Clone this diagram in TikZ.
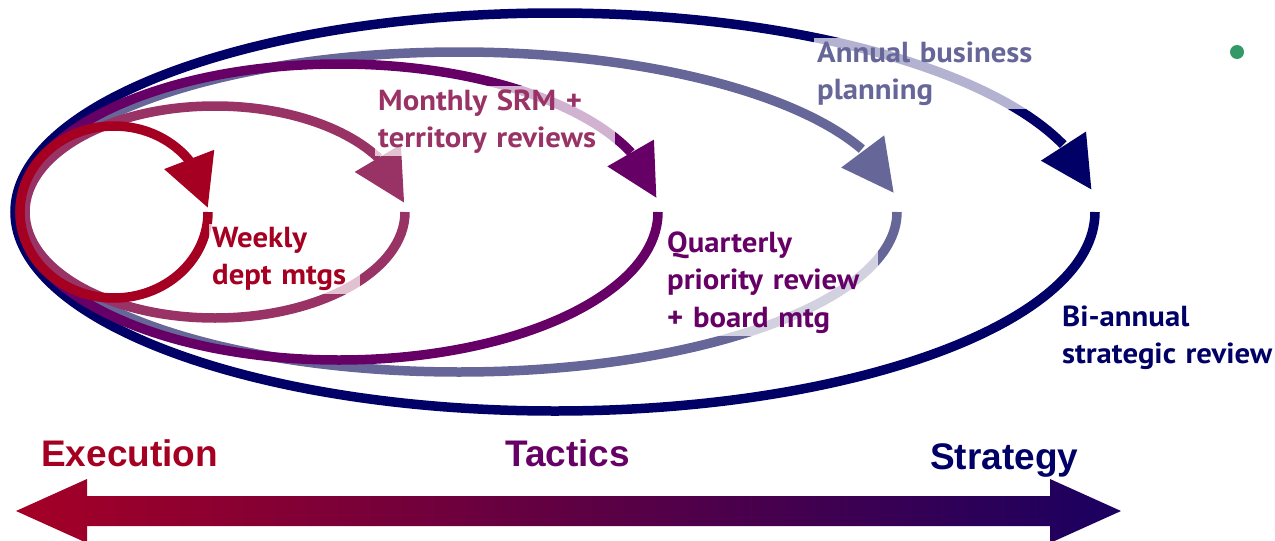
\documentclass[tikz,border=0pt]{standalone}
\usepackage{fontspec}
\setmainfont{PT Sans}[FakeStretch=1.06]
\newfontfamily\axisfont{Liberation Sans}
\usetikzlibrary{arrows.meta,bending}

% cycle colours
\definecolor{cWeek}{HTML}{A50021}
\definecolor{cMonth}{HTML}{993366}
\definecolor{cQuarter}{HTML}{660066}
\definecolor{cAnnual}{HTML}{666699}
\definecolor{cBiannual}{HTML}{000066}
\definecolor{cDot}{HTML}{339966}
\definecolor{cLeft}{RGB}{165,0,38}
\definecolor{cRight}{RGB}{26,0,96}

\begin{document}
\begin{tikzpicture}[x=1pt,y=-1pt,
  cycleloop/.style={line width=9.5pt, -{Triangle[length=52pt,width=51pt,flex]}},
  lbl/.style={font=\fontsize{29}{37.5}\selectfont\bfseries, anchor=base west,
    align=left, fill=white, fill opacity=0.7, text opacity=1, inner sep=3pt},
  axislbl/.style={font=\axisfont\fontsize{37}{42}\selectfont\bfseries,
    anchor=base west, inner sep=0pt}]

\useasboundingbox (0,0) rectangle (1275,541);

% start points of the review cycles (right side, just below the axis)
\coordinate (bStart) at (1095,212);
\coordinate (aStart) at (897,212);
\coordinate (qStart) at (658,212);
\coordinate (mStart) at (405,212);
\coordinate (wStart) at (208,212);

% nested cycles, outermost first
\draw[cycleloop, cBiannual] (bStart) arc[start angle=0, end angle=353.6, x radius=540, y radius=199];
\draw[cycleloop, cAnnual]   (aStart) arc[start angle=0, end angle=353.2, x radius=438, y radius=160];
\draw[cycleloop, cQuarter]  (qStart) arc[start angle=0, end angle=354.6, x radius=319, y radius=148];
\draw[cycleloop, cMonth]    (mStart) arc[start angle=0, end angle=355.1, x radius=190, y radius=106];
\draw[cycleloop, cWeek]     (wStart) arc[start angle=0, end angle=357.3, x radius=94,  y radius=86];

% cycle labels
\node[lbl, text=cWeek, text width=145pt] (weekly) at (209,247) {Weekly\\dept mtgs};
\node[lbl, text=cMonth, text width=234pt] (monthly) at (375,110) {Monthly SRM +\\territory reviews};
\node[lbl, text=cQuarter, text width=208pt] (quarterly) at (664,252) {Quarterly\\priority review\\+ board mtg};
\node[lbl, text=cAnnual, text width=228pt] (annual) at (814,62) {Annual business\\planning};
\node[lbl, text=cBiannual, text width=216pt] (biannual) at (1059,326) {Bi-annual\\strategic review};

\node[circle, fill=cDot, minimum size=14pt, inner sep=0pt] (dot) at (1237,52) {};

% horizon scale
\path[left color=cLeft, right color=cRight]
  (16,511) -- (87,479) -- (87,496) -- (1050,496) -- (1050,479) -- (1121,511)
  -- (1050,543) -- (1050,526) -- (87,526) -- (87,543) -- cycle;

\node[axislbl, text=cWeek] (execution) at (41,466) {Execution};
\node[axislbl, text=cQuarter] (tactics) at (505,466) {Tactics};
\node[axislbl, text=cBiannual] (strategy) at (930,469) {Strategy};
\end{tikzpicture}
\end{document}
